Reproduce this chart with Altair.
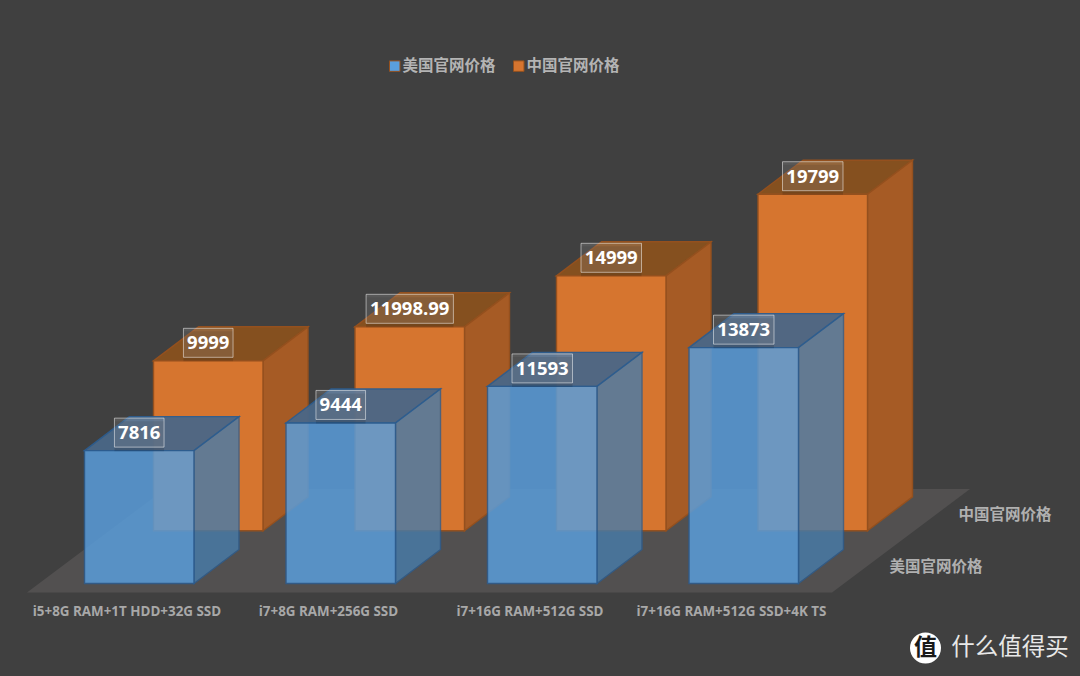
import altair as alt
import pandas as pd

categories = ["i5+8G RAM+1T HDD+32G SSD", "i7+8G RAM+256G SSD", "i7+16G RAM+512G SSD", "i7+16G RAM+512G SSD+4K TS"]
series_names = ["美国官网价格", "中国官网价格"]
us_prices = [7816, 9444, 11593, 13873]
cn_prices = [9999, 11998.99, 14999, 19799]

W, H = 1064, 660
PX = 0.017            # pixels per price unit
BASE = 583.5          # screen row of the front series' floor line
X0, PITCH, BAR = 84.5, 201.5, 109.5
DX, DY = 45, 34       # bar depth
SDX, SDY = 69, 52.7   # shift of the rear series
CJK = "Noto Sans CJK SC"
LATIN = "Open Sans"
BG = "#404040"

def u(row):           # screen row expressed in price units
    return (BASE - row) / PX

xs = alt.Scale(domain=[8, 8 + W], nice=False, zero=False)
ys = alt.Scale(domain=[u(8 + H), u(8)], nice=False, zero=False)
X = lambda f: alt.X(f, type="quantitative", scale=xs, axis=None)
Y = lambda f: alt.Y(f, type="quantitative", scale=ys, axis=None, stack=None)

def frames(values, s):
    front, side, top = [], [], []
    for i, v in enumerate(values):
        l = X0 + i * PITCH + s * SDX
        r = l + BAR
        b = u(BASE - s * SDY)
        t = b + v
        d = DY / PX
        front.append(dict(xa=l, xb=r, ya=b, yb=t, series=series_names[s]))
        side.append(dict(x=r, y1=b, y2=t, id=i))
        side.append(dict(x=r + DX, y1=b + d, y2=t + d, id=i))
        top.append(dict(y=t, x1=l, x2=r, id=i))
        top.append(dict(y=t + d, x1=l + DX, x2=r + DX, id=i))
    return pd.DataFrame(front), pd.DataFrame(side), pd.DataFrame(top)

def bars(values, s, front_op, side_c, side_op, top_c, top_op, edge):
    fr, si, to = frames(values, s)
    top = alt.Chart(to).mark_area(orient="horizontal", color=top_c, opacity=top_op, stroke=edge, strokeWidth=1.4).encode(
        y=Y("y"), x=X("x1"), x2="x2", detail="id:N")
    side = alt.Chart(si).mark_area(color=side_c, opacity=side_op, stroke=edge, strokeWidth=1.4).encode(
        x=X("x"), y=Y("y1"), y2="y2", detail="id:N")
    front = alt.Chart(fr).mark_rect(opacity=front_op, stroke=edge, strokeWidth=1.4).encode(
        x=X("xa"), x2="xb", y=Y("ya"), y2="yb",
        color=alt.Color("series:N", sort=series_names,
                        scale=alt.Scale(domain=series_names, range=["#5A9EDC", "#D6752F"]),
                        legend=alt.Legend(title=None, orient="none", legendX=379, legendY=50, direction="horizontal",
                                          symbolType="square", symbolSize=110, symbolOpacity=1,
                                          symbolStrokeWidth=1, labelFont=CJK, labelFontSize=15.5, labelFontWeight="bold",
                                          labelColor="#b4b4b4", labelOffset=0, columnPadding=15, padding=0)))
    return [top, side, front]

def labels(values, s):
    rows = []
    for i, v in enumerate(values):
        t = f"{v:g}" if float(v).is_integer() else f"{v:.2f}"
        cx = X0 + i * PITCH + s * SDX + BAR / 2
        w = 10.9 * len(t.replace(".", "")) + 5 * t.count(".") + 6
        yc = u(BASE - s * SDY) + v + 18 / PX
        rows.append(dict(t=t, cx=cx, xa=cx - w / 2, xb=cx + w / 2, yc=yc, ya=yc - 14.5 / PX, yb=yc + 14.5 / PX,
                         sa=yc - 18.5 / PX, sb=yc + 11.5 / PX, tc=yc - 0.5 / PX))
    df = pd.DataFrame(rows)
    shadow = alt.Chart(df).mark_rect(fill="#000000", fillOpacity=0.12).encode(
        x=X("xa"), x2="xb", y=Y("sa"), y2="sb")
    box = alt.Chart(df).mark_rect(fill="#ffffff", fillOpacity=0.13, stroke="#ffffff", strokeOpacity=0.5, strokeWidth=1).encode(
        x=X("xa"), x2="xb", y=Y("ya"), y2="yb")
    txt = alt.Chart(df).mark_text(font=LATIN, fontWeight="bold", fontSize=18.5, color="#ffffff", baseline="middle", align="center").encode(
        x=X("cx"), y=Y("tc"), text="t:N")
    return [shadow, box, txt]

# floor
floor_df = pd.DataFrame([dict(y=u(592.5), x1=27, x2=832), dict(y=u(489), x1=165, x2=970)])
floor = alt.Chart(floor_df).mark_area(orient="horizontal", color="#525050").encode(y=Y("y"), x=X("x1"), x2="x2")

# category labels, placed from the front bars
cat_df = pd.DataFrame([dict(c=c, x=X0 + i * PITCH + BAR / 2 - 12.3, y=u(611.5)) for i, c in enumerate(categories)])
cat = alt.Chart(cat_df).mark_text(font=LATIN, fontWeight="bold", fontSize=13.4, color="#a8a8a8", baseline="middle").encode(
    x=X("x"), y=Y("y"), text="c:N")

# depth-axis labels
dep_df = pd.DataFrame([dict(c=series_names[0], x=936, y=u(566.5)), dict(c=series_names[1], x=1005, y=u(514.5))])
dep = alt.Chart(dep_df).mark_text(font=CJK, fontWeight="bold", fontSize=15.5, color="#b0b0b0", baseline="middle").encode(
    x=X("x"), y=Y("y"), text="c:N")

# watermark
wm_df = pd.DataFrame([dict(x=925.5, y=u(648), c="值", t="什么值得买", tx=1010)])
wm_c = alt.Chart(wm_df).mark_point(shape="circle", filled=True, size=961, color="#ffffff", opacity=1).encode(x=X("x"), y=Y("y"))
wm_g = alt.Chart(wm_df).mark_text(font=CJK, fontWeight="bold", fontSize=23, color="#1a1a1a", baseline="middle").encode(x=X("x"), y=Y("y"), text="c:N")
wm_t = alt.Chart(wm_df).mark_text(font=CJK, fontSize=23.5, color="#e8e8e8", baseline="middle").encode(x=X("tx"), y=Y("y"), text="t:N")

layers = [floor]
layers += bars(cn_prices, 1, 1.0, "#A65B25", 1.0, "#85501F", 1.0, "#94501E")
layers += bars(us_prices, 0, 0.84, "#477CAB", 0.8, "#4A6787", 0.95, "#2C5D90")
layers += labels(cn_prices, 1) + labels(us_prices, 0)
layers += [cat, dep, wm_c, wm_g, wm_t]

chart = alt.layer(*layers).resolve_scale(x="shared", y="shared", color="shared").properties(
    width=W, height=H, background=BG, padding=0, autosize=alt.AutoSizeParams(type="none")
).configure_view(stroke=None)

chart.save("out.html", embed_options={"renderer": "svg", "actions": False,
                                      "defaultStyle": "html,body{background:#404040;overflow:hidden}"})
